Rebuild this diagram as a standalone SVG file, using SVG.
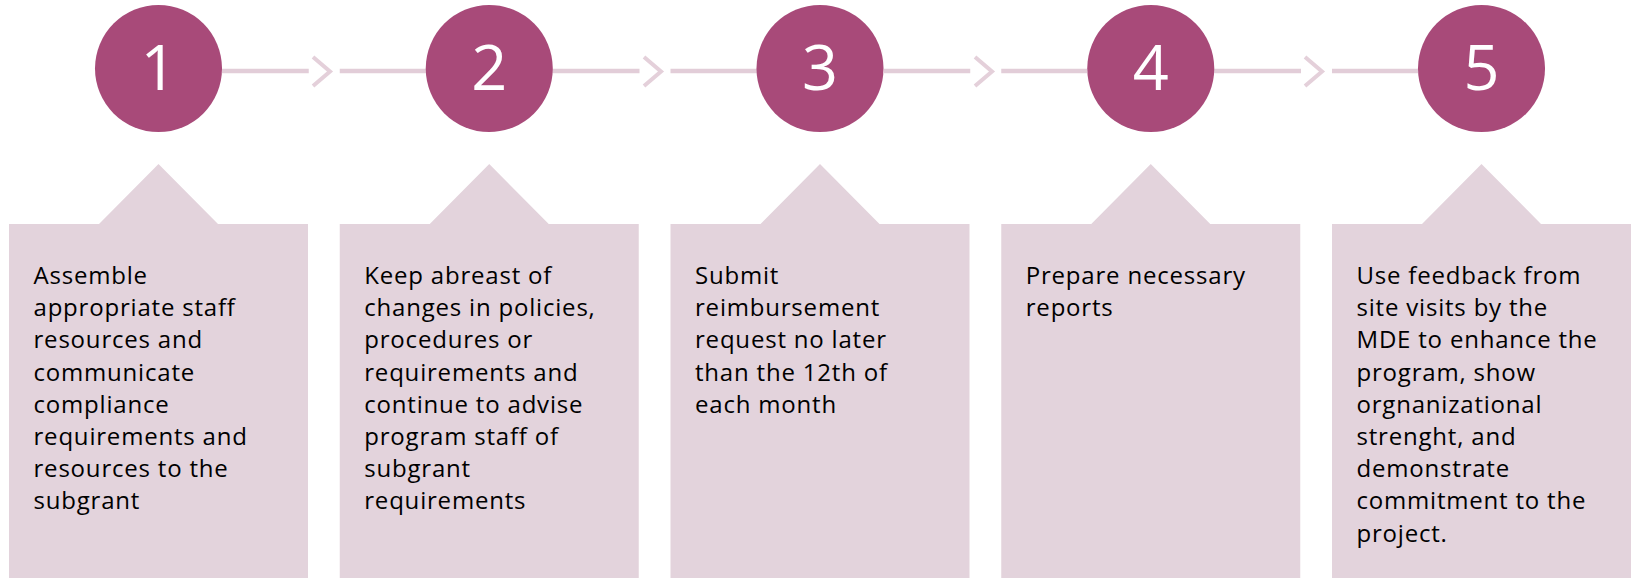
<svg xmlns="http://www.w3.org/2000/svg" width="1631" height="578" viewBox="0 0 1631 578">
<style>
.box{fill:#E3D3DC}
.circ{fill:#A84A79}
.num{font-family:"Open Sans","Liberation Sans",sans-serif;font-size:63px;fill:#FFFFFF;text-anchor:middle}
.txt{font-family:"Open Sans","Liberation Sans",sans-serif;font-size:24px;fill:#000000;letter-spacing:0.8px}
.ln{stroke:#E2CDD8;stroke-width:4.5;fill:none}
.chev{stroke:#E4D0DA;stroke-width:4;fill:none}
</style>
<rect width="1631" height="578" fill="#FFFFFF"/>
<g id="connectors">
<line class="ln" x1="222" y1="71" x2="308.75" y2="71"/>
<polyline class="chev" points="313,57 330,71.5 313,86"/>
<line class="ln" x1="339.75" y1="71" x2="426" y2="71"/>
<line class="ln" x1="552" y1="71" x2="639.5" y2="71"/>
<polyline class="chev" points="644,57 661,71.5 644,86"/>
<line class="ln" x1="670.5" y1="71" x2="757" y2="71"/>
<line class="ln" x1="884" y1="71" x2="970.25" y2="71"/>
<polyline class="chev" points="975,57 992,71.5 975,86"/>
<line class="ln" x1="1001.25" y1="71" x2="1087" y2="71"/>
<line class="ln" x1="1214" y1="71" x2="1301" y2="71"/>
<polyline class="chev" points="1305,57 1322,71.5 1305,86"/>
<line class="ln" x1="1332" y1="71" x2="1418" y2="71"/>
</g>
<g id="step1">
<circle class="circ" cx="158.5" cy="68.5" r="63.5"/>
<text class="num" x="158.5" y="89.5">1</text>
<path class="box" d="M9,224 H99 L158.5,164 L218,224 H308 V578 H9 Z"/>
<text class="txt" x="33.5" y="284">
<tspan x="33.5" y="284">Assemble</tspan>
<tspan x="33.5" y="316.2">appropriate staff</tspan>
<tspan x="33.5" y="348.4">resources and</tspan>
<tspan x="33.5" y="380.6">communicate</tspan>
<tspan x="33.5" y="412.8">compliance</tspan>
<tspan x="33.5" y="445">requirements and</tspan>
<tspan x="33.5" y="477.2">resources to the</tspan>
<tspan x="33.5" y="509.4">subgrant</tspan>
</text>
</g>
<g id="step2">
<circle class="circ" cx="489.25" cy="68.5" r="63.5"/>
<text class="num" x="489.25" y="89.5">2</text>
<path class="box" d="M339.75,224 H429.75 L489.25,164 L548.75,224 H638.75 V578 H339.75 Z"/>
<text class="txt">
<tspan x="364.25" y="284">Keep abreast of</tspan>
<tspan x="364.25" y="316.2">changes in policies,</tspan>
<tspan x="364.25" y="348.4">procedures or</tspan>
<tspan x="364.25" y="380.6">requirements and</tspan>
<tspan x="364.25" y="412.8">continue to advise</tspan>
<tspan x="364.25" y="445">program staff of</tspan>
<tspan x="364.25" y="477.2">subgrant</tspan>
<tspan x="364.25" y="509.4">requirements</tspan>
</text>
</g>
<g id="step3">
<circle class="circ" cx="820" cy="68.5" r="63.5"/>
<text class="num" x="820" y="89.5">3</text>
<path class="box" d="M670.5,224 H760.5 L820,164 L879.5,224 H969.5 V578 H670.5 Z"/>
<text class="txt">
<tspan x="695" y="284">Submit</tspan>
<tspan x="695" y="316.2">reimbursement</tspan>
<tspan x="695" y="348.4">request no later</tspan>
<tspan x="695" y="380.6">than the 12th of</tspan>
<tspan x="695" y="412.8">each month</tspan>
</text>
</g>
<g id="step4">
<circle class="circ" cx="1150.75" cy="68.5" r="63.5"/>
<text class="num" x="1150.75" y="89.5">4</text>
<path class="box" d="M1001.25,224 H1091.25 L1150.75,164 L1210.25,224 H1300.25 V578 H1001.25 Z"/>
<text class="txt">
<tspan x="1025.75" y="284">Prepare necessary</tspan>
<tspan x="1025.75" y="316.2">reports</tspan>
</text>
</g>
<g id="step5">
<circle class="circ" cx="1481.5" cy="68.5" r="63.5"/>
<text class="num" x="1481.5" y="89.5">5</text>
<path class="box" d="M1332,224 H1422 L1481.5,164 L1541,224 H1631 V578 H1332 Z"/>
<text class="txt">
<tspan x="1356.5" y="284">Use feedback from</tspan>
<tspan x="1356.5" y="316.2">site visits by the</tspan>
<tspan x="1356.5" y="348.4">MDE to enhance the</tspan>
<tspan x="1356.5" y="380.6">program, show</tspan>
<tspan x="1356.5" y="412.8">orgnanizational</tspan>
<tspan x="1356.5" y="445">strenght, and</tspan>
<tspan x="1356.5" y="477.2">demonstrate</tspan>
<tspan x="1356.5" y="509.4">commitment to the</tspan>
<tspan x="1356.5" y="541.6">project.</tspan>
</text>
</g>
</svg>
